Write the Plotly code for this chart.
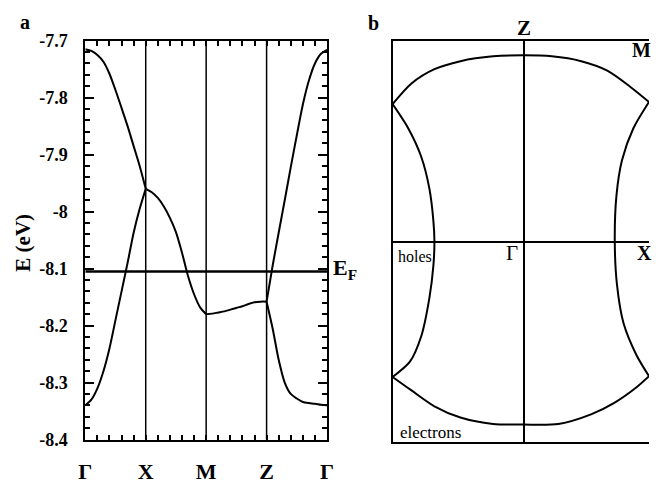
import plotly.graph_objects as go

# ---- panel a: bands along the path G-X-M-Z-G ----
k_gx = [0.0, 0.1, 0.2, 0.3, 0.4, 0.5, 0.6, 0.7, 0.8, 0.9, 1.0]
e_gx_upper = [-7.715, -7.718, -7.725, -7.737, -7.758, -7.787, -7.818, -7.85, -7.885, -7.92, -7.96]
e_gx_lower = [-8.34, -8.33, -8.31, -8.28, -8.24, -8.19, -8.14, -8.09, -8.037, -7.995, -7.96]

k_xm = [1.0, 1.1, 1.2, 1.3, 1.4, 1.5, 1.6, 1.7, 1.8, 1.9, 2.0]
e_xm = [-7.96, -7.966, -7.976, -7.991, -8.011, -8.036, -8.072, -8.113, -8.145, -8.168, -8.18]

k_mz = [2.0, 2.1, 2.2, 2.3, 2.4, 2.5, 2.6, 2.7, 2.8, 2.9, 3.0]
e_mz = [-8.18, -8.179, -8.177, -8.175, -8.172, -8.169, -8.166, -8.162, -8.159, -8.158, -8.158]

k_zg = [3.0, 3.1, 3.2, 3.3, 3.4, 3.5, 3.6, 3.7, 3.8, 3.9, 4.0]
e_zg_upper = [-8.158, -8.095, -8.037, -7.98, -7.922, -7.866, -7.812, -7.77, -7.74, -7.723, -7.716]
e_zg_lower = [-8.158, -8.205, -8.26, -8.30, -8.32, -8.328, -8.334, -8.336, -8.337, -8.339, -8.34]

e_fermi = -8.105
k_ticks = [0, 1, 2, 3, 4]
k_labels = ["Γ", "X", "M", "Z", "Γ"]
e_ticks = [-7.7, -7.8, -7.9, -8.0, -8.1, -8.2, -8.3, -8.4]
e_labels = ["-7.7", "-7.8", "-7.9", "-8", "-8.1", "-8.2", "-8.3", "-8.4"]

# ---- panel b: Fermi surface (kx, ky in zone units) ----
fs_top_kx = [-1.0, -0.856, -0.681, -0.483, -0.234, 0.0, 0.214, 0.438, 0.637, 0.811, 0.955]
fs_top_ky = [0.684, 0.787, 0.858, 0.898, 0.922, 0.927, 0.922, 0.898, 0.851, 0.771, 0.695]
fs_right_kx = [0.955, 0.836, 0.749, 0.707, 0.694, 0.711, 0.761, 0.860, 0.955]
fs_right_ky = [0.695, 0.564, 0.405, 0.230, 0.0, -0.216, -0.407, -0.566, -0.67]
fs_bottom_kx = [0.955, 0.860, 0.687, 0.513, 0.263, 0.0, -0.234, -0.483, -0.681, -0.856, -1.0]
fs_bottom_ky = [-0.67, -0.725, -0.804, -0.860, -0.908, -0.911, -0.908, -0.876, -0.820, -0.741, -0.674]
fs_left_kx = [-1.0, -0.868, -0.781, -0.719, -0.689, -0.681, -0.689, -0.719, -0.781, -0.881, -1.0]
fs_left_ky = [-0.674, -0.598, -0.470, -0.279, -0.120, 0.0, 0.103, 0.262, 0.421, 0.564, 0.684]

SERIF = "Liberation Serif, Times New Roman, serif"
W, H = 656, 486


def px(x, y):
    # pixel position -> paper coords
    return x / W, 1 - y / H


fig = go.Figure()

bands = [(k_gx, e_gx_upper), (k_gx, e_gx_lower), (k_xm, e_xm),
         (k_mz, e_mz), (k_zg, e_zg_upper), (k_zg, e_zg_lower)]
for k, e in bands:
    fig.add_trace(go.Scatter(x=k, y=e, mode="lines", xaxis="x", yaxis="y",
                             line=dict(color="black", width=2, shape="spline", smoothing=0.8),
                             hoverinfo="skip", showlegend=False))

fs = [(fs_top_kx, fs_top_ky), (fs_right_kx, fs_right_ky),
      (fs_bottom_kx, fs_bottom_ky), (fs_left_kx, fs_left_ky)]
for kx, ky in fs:
    fig.add_trace(go.Scatter(x=kx, y=ky, mode="lines", xaxis="x2", yaxis="y2",
                             line=dict(color="black", width=2, shape="spline", smoothing=0.8),
                             hoverinfo="skip", showlegend=False))

# high symmetry lines and Fermi level
for k in k_ticks[1:-1]:
    fig.add_shape(type="line", xref="x", yref="y domain", x0=k, x1=k, y0=0, y1=1,
                  line=dict(color="black", width=1.5))
fig.add_shape(type="line", xref="x", yref="y", x0=0, x1=4, y0=e_fermi, y1=e_fermi,
              line=dict(color="black", width=2.5))

bold = dict(family=SERIF, color="black", weight="bold")

fig.update_layout(
    width=W, height=H,
    margin=dict(l=0, r=0, t=0, b=0),
    paper_bgcolor="white", plot_bgcolor="white",
    showlegend=False,
    xaxis=dict(domain=[80 / W, 327 / W], anchor="y", range=[0, 4],
               tickvals=k_ticks, ticktext=k_labels, tickfont=dict(size=22, **bold),
               ticks="inside", ticklen=5, tickwidth=1.5, tickcolor="black",
               minor=dict(tickmode="linear", tick0=0, dtick=0.2, ticks="inside",
                          ticklen=5, tickwidth=1.5, tickcolor="black"),
               showline=True, linewidth=2, linecolor="black", mirror="allticks",
               showgrid=False, zeroline=False, ticklabelstandoff=11),
    yaxis=dict(domain=[1 - 448 / H, 1 - 32 / H], anchor="x", range=[-8.4, -7.7],
               tickvals=e_ticks, ticktext=e_labels, tickfont=dict(size=18, **bold),
               ticks="inside", ticklen=9, tickwidth=1.5, tickcolor="black",
               minor=dict(tickmode="linear", tick0=-8.4, dtick=0.02, ticks="inside",
                          ticklen=5, tickwidth=1.5, tickcolor="black"),
               showline=True, linewidth=2, linecolor="black", mirror="allticks",
               showgrid=False, zeroline=False, ticklabelstandoff=12),
    xaxis2=dict(domain=[394 / W, 1], anchor="y2", range=[-1, 0.955],
                showticklabels=False, ticks="", showgrid=False,
                showline=True, linewidth=2, linecolor="black", mirror=True,
                zeroline=True, zerolinewidth=1.5, zerolinecolor="black"),
    yaxis2=dict(domain=[1 - 451 / H, 1 - 32 / H], anchor="x2", range=[-1, 1],
                showticklabels=False, ticks="", showgrid=False,
                showline=True, linewidth=2, linecolor="black", mirror=False,
                zeroline=True, zerolinewidth=1.5, zerolinecolor="black"),
)


def label(text, x, y, size, xanchor="center", weight="bold", angle=0):
    ax_, ay_ = px(x, y)
    fig.add_annotation(text=text, x=ax_, y=ay_, xref="paper", yref="paper",
                       xanchor=xanchor, yanchor="middle", showarrow=False, textangle=angle,
                       font=dict(family=SERIF, size=size, color="black", weight=weight))


label("a", 18, 12, 20)
label("b", 374, 14, 20)
label("E (eV)", 16, 243, 21, angle=-90)
label("E<sub>F</sub>", 331, 270, 22, xanchor="left")
label("Z", 528, 19, 21)
label("M", 637, 42, 20, xanchor="left")
label("X", 642, 253, 20, xanchor="left")
label("Γ", 516, 253, 21, weight="normal")
label("holes", 397, 257, 16, xanchor="left", weight="normal")
label("electrons", 400, 441, 17, xanchor="left", weight="normal")

# page margin off so the 656x486 figure fills the window exactly
fig.write_html("out.html", config={"displayModeBar": False},
               post_script="document.body.style.margin='0';document.body.style.overflow='hidden';")
